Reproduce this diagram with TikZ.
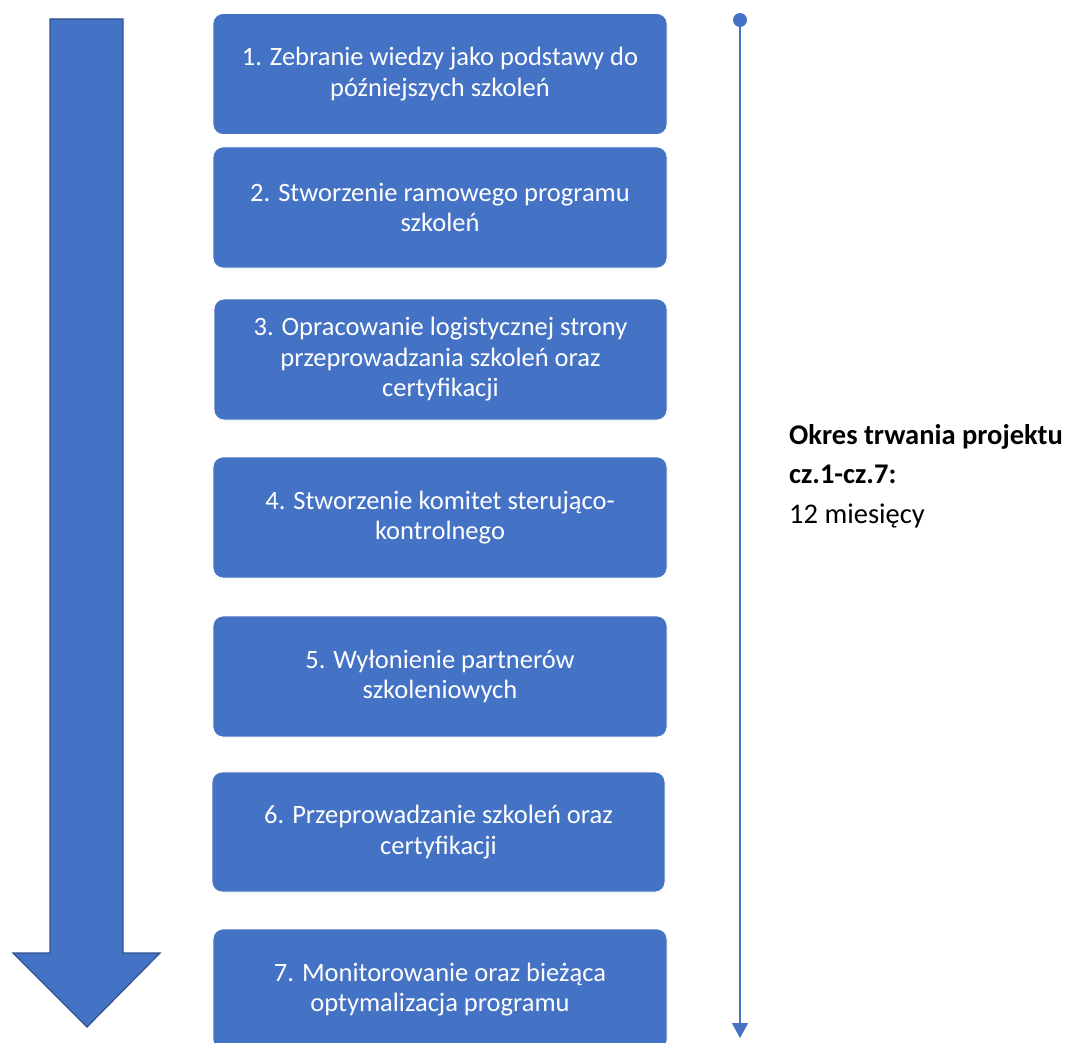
\documentclass[tikz,border=0pt]{standalone}
\usepackage{fontspec}
\setmainfont{Carlito}
\usetikzlibrary{arrows.meta}
\definecolor{oblue}{HTML}{4472C4}
\definecolor{odark}{HTML}{2F528F}
\tikzset{
  stepbox/.style={draw=white, line width=0.8pt, fill=oblue, rounded corners=10pt, text=white,
    align=center, font=\fontsize{26.5}{30.5}\selectfont, inner sep=0pt},
}
\begin{document}
\begin{tikzpicture}[x=1pt,y=-1pt]
\useasboundingbox (0,0) rectangle (1073,1043);
% big arrow
\draw[fill=oblue, draw=odark, line width=1.2pt, line join=miter]
  (50,19) -- (123,19) -- (123,953) -- (160,953) -- (87,1027) -- (13,953) -- (50,953) -- cycle;
% boxes
\node[stepbox, minimum width=454pt, minimum height=121pt] (b1) at (440,74) {1. Zebranie wiedzy jako podstawy do\\późniejszych szkoleń};
\node[stepbox, minimum width=454pt, minimum height=121pt] (b2) at (440,207.5) {2. Stworzenie ramowego programu\\szkoleń};
\node[stepbox, minimum width=453pt, minimum height=121pt] (b3) at (440.5,359.5) {3. Opracowanie logistycznej strony\\przeprowadzania szkoleń oraz\\certyfikacji};
\node[stepbox, minimum width=454pt, minimum height=121pt] (b4) at (440,517.5) {4. Stworzenie komitet sterująco-\\kontrolnego};
\node[stepbox, minimum width=454pt, minimum height=121pt] (b5) at (440,676.5) {5. Wyłonienie partnerów\\szkoleniowych};
\node[stepbox, minimum width=453pt, minimum height=120pt] (b6) at (438.5,832) {6. Przeprowadzanie szkoleń oraz\\certyfikacji};
\node[stepbox, minimum width=454pt, minimum height=121pt] (b7) at (440,989.5) {7. Monitorowanie oraz bieżąca\\optymalizacja programu};
% timeline
\coordinate (t0) at (740,20);
\coordinate (t1) at (740,1038);
\fill[oblue] (t0) circle (7);
\draw[oblue, line width=1.3pt, -{Triangle[length=15pt,width=16pt]}] (t0) -- (t1);
% duration text
\node[anchor=north west, align=left, inner sep=0pt, font=\fontsize{28.5}{39.5}\selectfont] (dur) at (789,424)
  {\textbf{Okres trwania projektu}\\\textbf{cz.1-cz.7:}\\12 miesięcy};
\end{tikzpicture}
\end{document}
